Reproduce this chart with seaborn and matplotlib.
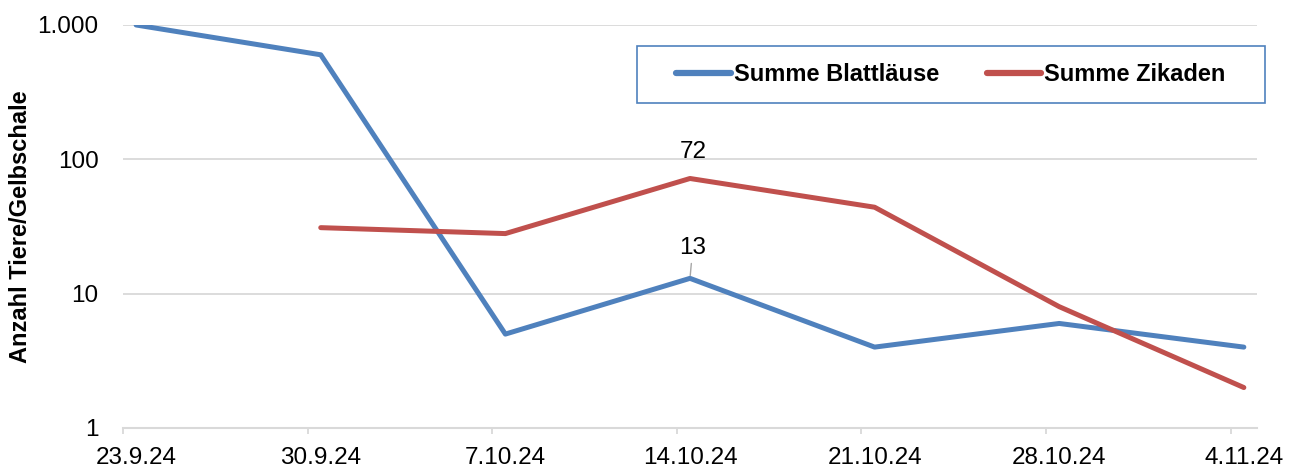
import numpy as np
import pandas as pd
import matplotlib
matplotlib.use("Agg")
import matplotlib.pyplot as plt
from matplotlib.lines import Line2D
from matplotlib.patches import Rectangle
from matplotlib.ticker import NullLocator, NullFormatter
import seaborn as sns

# Data ------------------------------------------------------------------------

dates = ["2024-09-23", "2024-09-30", "2024-10-07", "2024-10-14",
         "2024-10-21", "2024-10-28", "2024-11-04"]
date_labels = ["23.9.24", "30.9.24", "7.10.24", "14.10.24",
               "21.10.24", "28.10.24", "4.11.24"]
blattlaeuse = [1000, 600, 5, 13, 4, 6, 4]
zikaden = [np.nan, 31, 28, 72, 44, 8, 2]
series_names = ["Summe Blattläuse", "Summe Zikaden"]
colors = ["#4F81BD", "#C0504D"]

y_ticks = [1, 10, 100, 1000]
y_labels = ["1", "10", "100", "1.000"]

labelled_date = "2024-10-14"

# Build long table --------------------------------------------------------------

day = pd.to_datetime(dates)
half = pd.Timedelta(hours=12)
df = pd.concat([
    pd.DataFrame({"datum": day, "anzahl": blattlaeuse, "serie": series_names[0]}),
    pd.DataFrame({"datum": day, "anzahl": zikaden, "serie": series_names[1]}),
], ignore_index=True).dropna()
# Excel date axis puts the points in the middle of the day
df["x"] = df["datum"] + half

# Plot ---------------------------------------------------------------------------

sns.set_style("white")
plt.rcParams["font.family"] = ["Liberation Sans", "DejaVu Sans"]
plt.rcParams["text.color"] = "black"
plt.rcParams["axes.labelcolor"] = "black"

fig, ax = plt.subplots(figsize=(13.01, 4.68), dpi=100)
fig.subplots_adjust(left=0.0945, right=0.9662, top=0.9466, bottom=0.0855)

sns.lineplot(data=df, x="x", y="anzahl", hue="serie", palette=colors,
             hue_order=series_names, linewidth=3.6, legend=False, ax=ax)

ax.set_yscale("log")
ax.set_ylim(1, 1000)
ax.set_yticks(y_ticks)
ax.set_yticklabels(y_labels)
ax.yaxis.set_minor_locator(NullLocator())

# tick marks at the start of each day, labels in the middle of the day
ax.set_xlim(day[0], day[-1] + pd.Timedelta(days=1))
ax.set_xticks(day)
ax.xaxis.set_major_formatter(NullFormatter())
ax.set_xticks(day + half, minor=True)
ax.set_xticklabels(date_labels, minor=True)

grid_col = "#D9D9D9"
ax.grid(axis="y", color=grid_col, linewidth=1.3)
ax.grid(axis="x", visible=False)
for side in ["top", "right", "left"]:
    ax.spines[side].set_visible(False)
ax.spines["bottom"].set_color(grid_col)
ax.spines["bottom"].set_linewidth(1.5)

ax.tick_params(axis="x", which="major", bottom=True, length=4.5, width=1.3,
               color=grid_col)
ax.tick_params(axis="x", which="minor", bottom=True, length=0,
               labelsize=17.5, pad=14, labelcolor="black")
ax.tick_params(axis="y", left=False, labelsize=17.5, pad=14, labelcolor="black")

ax.set_xlabel("")
ax.set_ylabel("Anzahl Tiere/Gelbschale", fontsize=17, fontweight="bold",
              color="black")
ax.yaxis.set_label_coords(-0.080, 0.5)

# data labels at 14.10.24
sel = df[df["datum"] == pd.Timestamp(labelled_date)]
for _, row in sel.iterrows():
    if row["serie"] == series_names[1]:
        ax.annotate(f"{row['anzahl']:.0f}", xy=(row["x"], row["anzahl"]),
                    xytext=(2, 19), textcoords="offset points",
                    ha="center", va="center", fontsize=17.5)
    else:
        ax.annotate(f"{row['anzahl']:.0f}", xy=(row["x"], row["anzahl"]),
                    xytext=(2, 22), textcoords="offset points",
                    ha="center", va="center", fontsize=17.5,
                    arrowprops=dict(arrowstyle="-", color="#A6A6A6", lw=1,
                                    shrinkA=1, shrinkB=2))

# legend box drawn separately so its size can match
box = Rectangle((0.4533, 0.8065), 0.5538, 0.1414, transform=ax.transAxes,
                facecolor="white", edgecolor="#4F81BD", linewidth=1.2,
                clip_on=False, zorder=4)
ax.add_patch(box)

handles = [Line2D([], [], color=c, linewidth=4.5, solid_capstyle="round")
           for c in colors]
leg = ax.legend(handles, series_names, loc="center",
                bbox_to_anchor=(0.4533 + 0.5538 / 2, 0.8065 + 0.1414 / 2),
                ncol=2, frameon=False, borderpad=0, handlelength=2.3,
                handletextpad=0.15, columnspacing=2.0,
                prop={"weight": "bold", "size": 17})
leg.set_zorder(5)
for t in leg.get_texts():
    t.set_color("black")

fig.savefig("out.png", dpi=100)
